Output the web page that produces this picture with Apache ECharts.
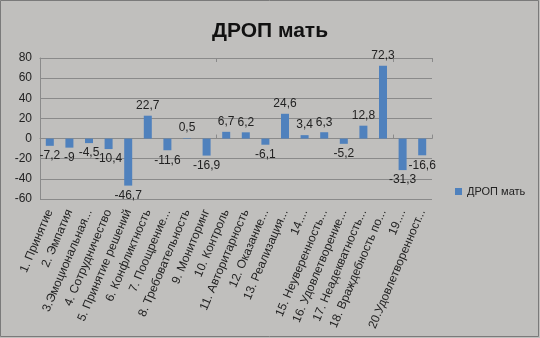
<!DOCTYPE html>
<html><head><meta charset="utf-8">
<script src="https://cdn.jsdelivr.net/npm/echarts@6/dist/echarts.min.js"></script>
<style>html,body{margin:0;padding:0;background:#c0bfbd}#c{width:540px;height:338px}</style>
</head><body><div id="c"></div>
<script>
const categories = ["1. Принятие","2. Эмпатия","3.Эмоциональная...","4. Сотрудничество","5. Принятие решений","6. Конфликтность","7. Поощрение...","8. Требовательность","9. Мониторинг","10. Контроль","11. Авторитарность","12. Оказание...","13. Реализация...","14....","15. Неуверенность...","16. Удовлетворение...","17. Неадекватность...","18. Враждебность по...","19....","20.Удовлетворенност..."];
const values = [-7.2,-9,-4.5,-10.4,-46.7,22.7,-11.6,0.5,-16.9,6.7,6.2,-6.1,24.6,3.4,6.3,-5.2,12.8,72.3,-31.3,-16.6];
const yTicks = [-60,-40,-20,0,20,40,60,80];
const seriesName = "ДРОП мать";

const font = "Liberation Sans";
const chart = echarts.init(document.getElementById('c'), null, {renderer:'canvas'});
const zeroAxis = (inside) => ({
  type:'category', data:categories,
  axisLine:{show:true, onZero:true, lineStyle:{color:'#8a8a8a'}},
  axisTick:{show:true, inside:inside, length:4, lineStyle:{color:'#8a8a8a'}},
  axisLabel:{show:false}
});
chart.setOption({
  backgroundColor:'#c0bfbd',
  animation:false,
  textStyle:{fontFamily:font},
  title:{text:'ДРОП мать', left:'center', top:16, textStyle:{fontFamily:font, fontSize:21, fontWeight:'bold', color:'#111'}},
  legend:{data:[seriesName], left:450, top:181, itemWidth:7, itemHeight:7, itemGap:4, icon:'rect', textStyle:{fontFamily:font, fontSize:11, color:'#222'}},
  grid:{left:40, right:108, top:58, bottom:139},
  xAxis:[{
    type:'category', data:categories, position:'bottom',
    axisLine:{show:false, onZero:false}, axisTick:{show:false},
    axisLabel:{rotate:67, fontSize:12, color:'#222', margin:11, interval:0, fontFamily:font}
  }, zeroAxis(false), zeroAxis(true)],
  yAxis:{type:'value', min:yTicks[0], max:yTicks[yTicks.length-1], interval:20,
    axisLine:{show:true, lineStyle:{color:'#8a8a8a'}},
    axisTick:{show:false},
    splitLine:{lineStyle:{color:'#8a8a8a'}},
    axisLabel:{fontSize:12, color:'#222', margin:8, fontFamily:font}
  },
  series:[{
    name:seriesName, type:'bar', xAxisIndex:0, barWidth:8,
    itemStyle:{color:'#4f81bd'},
    data:values.map(v=>({value:v, label:{position: v<0?'bottom':'top'}})),
    label:{show:true, fontSize:12, color:'#222', distance:4, fontFamily:font,
      formatter:p=>String(p.value).replace('.',',')}
  }],
  graphic:[{type:'rect', shape:{x:0.5,y:0.5,width:538,height:336}, style:{fill:'none', stroke:'#7a7a7a', lineWidth:1}, silent:true}]
});
</script></body></html>
